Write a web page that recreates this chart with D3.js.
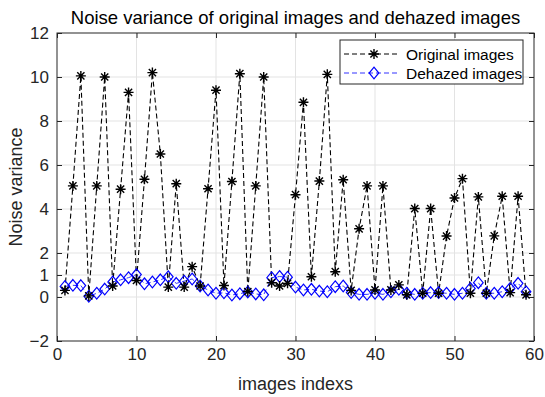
<!DOCTYPE html>
<html>
<head>
<meta charset="utf-8">
<script src="https://cdn.jsdelivr.net/npm/d3@7"></script>
<style>
  body { margin: 0; background: #fff; }
  svg text { font-family: Arial, "Liberation Sans", sans-serif; }
</style>
</head>
<body>
<div id="vis"></div>
<script>
// image index 1..59
const indexes = d3.range(1, 60)

const original = [
    0.3, 5.05, 10.05, 0.05, 5.05, 10.0, 0.5, 4.9, 9.3, 0.75,
    5.35, 10.2, 6.5, 0.45, 5.15, 0.45, 1.38, 0.5, 4.92, 9.4,
    0.52, 5.25, 10.15, 0.25, 5.05, 10.0, 0.65, 0.5, 0.62, 4.65,
    8.85, 0.92, 5.27, 10.12, 1.15, 5.33, 0.3, 3.1, 5.05, 0.32,
    5.05, 0.32, 0.55, 0.1, 4.02, 0.17, 4.02, 0.17, 2.77, 4.5,
    5.38, 0.17, 4.55, 0.17, 2.78, 4.58, 0.2, 4.58, 0.1
]

const dehazed = [
    0.48, 0.53, 0.52, 0.03, 0.17, 0.36, 0.68, 0.78, 0.88, 1.02,
    0.6, 0.68, 0.78, 0.92, 0.62, 0.72, 0.82, 0.5, 0.32, 0.17,
    0.19, 0.09, 0.15, 0.23, 0.14, 0.1, 0.88, 0.93, 0.9, 0.45,
    0.32, 0.35, 0.27, 0.24, 0.47, 0.5, 0.2, 0.12, 0.12, 0.17,
    0.12, 0.24, 0.35, 0.17, 0.12, 0.17, 0.2, 0.2, 0.17, 0.12,
    0.17, 0.39, 0.65, 0.17, 0.17, 0.24, 0.39, 0.62, 0.24
]

const xTicks = [0, 10, 20, 30, 40, 50, 60]
const yTicks = [-2, 0, 1, 2, 4, 6, 8, 10, 12]

const seriesNames = ['Original images', 'Dehazed images']

////////////////////////////////////////
////////////// SVG Setup ///////////////
////////////////////////////////////////

const W = 545, H = 397
const margin = { top: 33, right: 11, bottom: 56, left: 57 }
const width = W - margin.left - margin.right
const height = H - margin.top - margin.bottom

const root = d3.select('#vis').append('svg')
    .attr('width', W)
    .attr('height', H)

const svg = root.append('g')
    .attr('transform', `translate(${margin.left}, ${margin.top})`)

////////////////////////////////////////
////////////// Scales //////////////////
////////////////////////////////////////

const xScale = d3.scaleLinear().domain([0, 60]).range([0, width])
const yScale = d3.scaleLinear().domain([-2, 12]).range([height, 0])

////////////////////////////////////////
////////////// Grid + axes /////////////
////////////////////////////////////////

const grid = svg.append('g')
grid.selectAll('.gx')
    .data(xTicks.slice(1, -1))
    .join('line')
    .attr('x1', d => xScale(d)).attr('x2', d => xScale(d))
    .attr('y1', 0).attr('y2', height)
    .attr('stroke', '#e3e3e3')
grid.selectAll('.gy')
    .data(yTicks.slice(1, -1))
    .join('line')
    .attr('y1', d => yScale(d)).attr('y2', d => yScale(d))
    .attr('x1', 0).attr('x2', width)
    .attr('stroke', '#e3e3e3')

const tickLen = 5
const axisColor = '#262626'

svg.append('g')
    .attr('transform', `translate(0, ${height})`)
    .call(d3.axisBottom(xScale).tickValues(xTicks).tickSizeInner(-tickLen).tickSizeOuter(0).tickPadding(7))
svg.append('g')
    .call(d3.axisTop(xScale).tickValues(xTicks).tickSizeInner(-tickLen).tickSizeOuter(0).tickFormat(''))
svg.append('g')
    .call(d3.axisLeft(yScale).tickValues(yTicks).tickSizeInner(-tickLen).tickSizeOuter(0).tickPadding(8))
svg.append('g')
    .attr('transform', `translate(${width}, 0)`)
    .call(d3.axisRight(yScale).tickValues(yTicks).tickSizeInner(-tickLen).tickSizeOuter(0).tickFormat(''))

svg.selectAll('.domain').remove()
svg.selectAll('.tick line').attr('stroke', axisColor)
svg.selectAll('.tick text').attr('font-size', 17).attr('fill', axisColor)

svg.append('rect')
    .attr('width', width).attr('height', height)
    .attr('fill', 'none')
    .attr('stroke', axisColor)

////////////////////////////////////////
////////////// Series //////////////////
////////////////////////////////////////

const line = d3.line()
    .x((d, i) => xScale(indexes[i]))
    .y(d => yScale(d))

function star(g, cx, cy, r, color) {
    const a = r * 0.72
    g.append('path')
        .attr('d', `M${cx - r},${cy}H${cx + r}M${cx},${cy - r}V${cy + r}` +
            `M${cx - a},${cy - a}L${cx + a},${cy + a}M${cx - a},${cy + a}L${cx + a},${cy - a}`)
        .attr('stroke', color)
        .attr('stroke-width', 1.4)
}

function diamond(g, cx, cy, color) {
    const w = 4.8, h = 5.8
    g.append('path')
        .attr('d', `M${cx},${cy - h}L${cx + w},${cy}L${cx},${cy + h}L${cx - w},${cy}Z`)
        .attr('fill', 'none')
        .attr('stroke', color)
        .attr('stroke-width', 1.2)
}

svg.append('path')
    .datum(dehazed)
    .attr('d', line)
    .attr('fill', 'none')
    .attr('stroke', '#3333ff')
    .attr('stroke-width', 1)
    .attr('stroke-dasharray', '5,3')

svg.append('path')
    .datum(original)
    .attr('d', line)
    .attr('fill', 'none')
    .attr('stroke', '#000')
    .attr('stroke-width', 1.1)
    .attr('stroke-dasharray', '5,3')

const dGroup = svg.append('g')
dehazed.forEach((v, i) => diamond(dGroup, xScale(indexes[i]), yScale(v), '#0000ff'))

const sGroup = svg.append('g')
original.forEach((v, i) => star(sGroup, xScale(indexes[i]), yScale(v), 5, '#000'))

////////////////////////////////////////
////////////// Legend //////////////////
////////////////////////////////////////

const legend = root.append('g').attr('transform', 'translate(340, 40)')
legend.append('rect')
    .attr('width', 183).attr('height', 44)
    .attr('fill', '#fff')
    .attr('stroke', axisColor)

const legendColors = ['#000', '#3333ff']
seriesNames.forEach((name, i) => {
    const y = 14 + i * 19
    legend.append('line')
        .attr('x1', 4).attr('x2', 58)
        .attr('y1', y).attr('y2', y)
        .attr('stroke', legendColors[i])
        .attr('stroke-dasharray', '5,3')
    if (i === 0) star(legend, 34, y, 5, '#000')
    else diamond(legend, 34, y, '#0000ff')
    legend.append('text')
        .attr('x', 66).attr('y', y + 5.5)
        .attr('font-size', 15.5)
        .attr('fill', '#000')
        .text(name)
})

////////////////////////////////////////
////////////// Labels //////////////////
////////////////////////////////////////

root.append('text')
    .attr('x', margin.left + width / 2)
    .attr('y', 24)
    .attr('text-anchor', 'middle')
    .attr('font-size', 18.5)
    .attr('fill', '#000')
    .text('Noise variance of original images and dehazed images')

root.append('text')
    .attr('x', margin.left + width / 2)
    .attr('y', 390)
    .attr('text-anchor', 'middle')
    .attr('font-size', 18)
    .attr('fill', axisColor)
    .text('images indexs')

root.append('text')
    .attr('transform', `translate(22, ${margin.top + height / 2}) rotate(-90)`)
    .attr('text-anchor', 'middle')
    .attr('font-size', 18)
    .attr('fill', axisColor)
    .text('Noise variance')
</script>
</body>
</html>
